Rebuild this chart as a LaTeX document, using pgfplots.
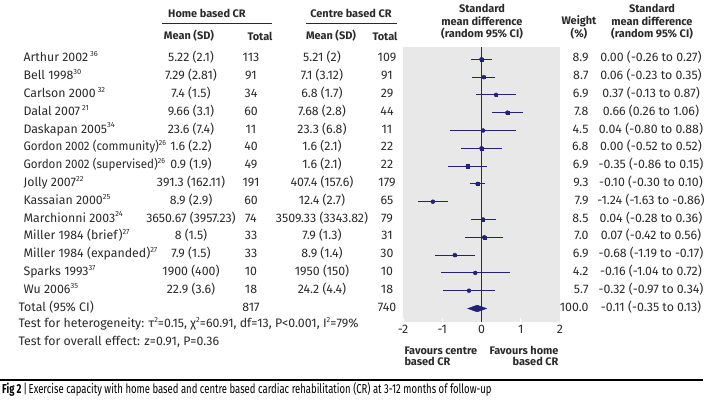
\documentclass[border=0pt]{standalone}
\usepackage{pgfplots}
\pgfplotsset{compat=1.18}
\usepackage{pgfplotstable}
\usepackage{graphicx}
\usepackage{fontspec}
\setmainfont{Fira Sans}
\definecolor{navy}{HTML}{22227A}
\definecolor{bg}{HTML}{E8E8E8}
\definecolor{txt}{HTML}{2A2A2A}

\pgfplotstableread{
row smd lo hi ms
-1 0.00 -0.26 0.27 1.6
-2 0.06 -0.23 0.35 1.0
-3 0.37 -0.13 0.87 1.0
-4 0.66 0.26 1.06 1.6
-5 0.04 -0.80 0.88 0.8
-6 0.00 -0.52 0.52 1.6
-7 -0.35 -0.86 0.15 1.6
-8 -0.10 -0.30 0.10 1.7
-9 -1.24 -1.63 -0.86 0.7
-10 0.04 -0.28 0.36 1.4
-11 0.07 -0.42 0.56 1.5
-12 -0.68 -1.19 -0.17 1.0
-13 -0.16 -1.04 0.72 0.7
-14 -0.32 -0.97 0.34 0.7
}\forestdata

\newcommand\bodyfont{\fontsize{12.4}{14}\selectfont}
\newcommand\headfont{\fontsize{11}{13}\selectfont\bfseries}
\newcommand\sups[1]{\raisebox{0.42em}{\fontsize{7.5}{8}\selectfont #1}}

\begin{document}
\begin{tikzpicture}[x=1bp,y=1bp,font=\bodyfont,text=txt]
\useasboundingbox (0,0) rectangle (718,-411);
\coordinate (axsw) at (403,-322);

\begin{axis}[at={(axsw)}, anchor=south west, scale only axis,
  width=157bp, height=275bp,
  xmin=-2, xmax=2, ymin=-15.758, ymax=-0.309,
  axis background/.style={fill=bg},
  axis line style={draw=none},
  xtick={-2,-1,0,1,2}, xticklabels={-2,-1,0,1,2}, ytick=\empty,
  xtick pos=left, tick align=inside, major tick length=4bp,
  tick style={white, line width=1bp},
  xticklabel style={font=\bodyfont, text=txt},
  clip=false]
\addplot[navy, line width=1.2bp] coordinates {(0,-0.309) (0,-15.758)};
\addplot[navy, only marks, mark=none,
  error bars/.cd, x dir=both, x explicit, error mark=none,
  error bar style={navy, line width=0.9bp}]
  table[x=smd, y=row,
    x error plus expr=\thisrow{hi}-\thisrow{smd},
    x error minus expr=\thisrow{smd}-\thisrow{lo}] {\forestdata};
\addplot[scatter, only marks, mark=square*,
  point meta=\thisrow{ms},
  scatter/use mapped color={draw=navy, fill=navy},
  visualization depends on={\thisrow{ms}\as\msz},
  scatter/@pre marker code/.append style={/tikz/mark size=\msz}]
  table[x=smd, y=row] {\forestdata};
\addplot[fill=navy, draw=navy] coordinates
  {(-0.35,-15) (-0.11,-14.81) (0.13,-15) (-0.11,-15.19)} -- cycle;
\end{axis}

% headers
\begin{scope}[font=\headfont]
\node at (207,-13) {Home based CR};
\node at (351,-13) {Centre based CR};
\node at (189,-36) {Mean (SD)};
\node at (260,-36) {Total};
\node at (331,-36) {Mean (SD)};
\node at (385,-36) {Total};
\node at (482,-8) {Standard};
\node at (482,-21) {mean difference};
\node at (482,-34) {(random 95\% CI)};
\node at (579,-21) {Weight};
\node at (579,-34) {(\%)};
\node at (652,-8) {Standard};
\node at (652,-21) {mean difference};
\node at (652,-34) {(random 95\% CI)};
\node[anchor=mid west] at (401,-352) {Favours centre};
\node[anchor=mid west] at (401,-363) {based CR};
\node[anchor=mid east] at (562,-352) {Favours home};
\node[anchor=mid east] at (562,-363) {based CR};
\end{scope}
\draw[txt, line width=0.8bp] (162,-23) -- (272,-23);
\draw[txt, line width=0.8bp] (306,-23) -- (397,-23);

% rows
\foreach \y/\nm/\hm/\hn/\cm/\cn/\w/\ci in {
 59.3/{Arthur 2002\,\sups{36}}/{5.22 (2.1)}/113/{5.21 (2)}/109/8.9/{0.00 (-0.26 to 0.27)},
 77.1/{Bell 1998\sups{30}}/{7.29 (2.81)}/91/{7.1 (3.12)}/91/8.7/{0.06 (-0.23 to 0.35)},
 94.9/{Carlson 2000\,\sups{32}}/{7.4 (1.5)}/34/{6.8 (1.7)}/29/6.9/{0.37 (-0.13 to 0.87)},
 112.7/{Dalal 2007\,\sups{21}}/{9.66 (3.1)}/60/{7.68 (2.8)}/44/7.8/{0.66 (0.26 to 1.06)},
 130.5/{Daskapan 2005\sups{34}}/{23.6 (7.4)}/11/{23.3 (6.8)}/11/4.5/{0.04 (-0.80 to 0.88)},
 148.3/{\scalebox{0.94}[1]{Gordon 2002 (community)\sups{26}}}/{1.6 (2.2)}/40/{1.6 (2.1)}/22/6.8/{0.00 (-0.52 to 0.52)},
 166.1/{\scalebox{0.94}[1]{Gordon 2002 (supervised)\sups{26}}}/{0.9 (1.9)}/49/{1.6 (2.1)}/22/6.9/{-0.35 (-0.86 to 0.15)},
 183.9/{Jolly 2007\sups{22}}/{391.3 (162.11)}/191/{407.4 (157.6)}/179/9.3/{-0.10 (-0.30 to 0.10)},
 201.7/{Kassaian 2000\sups{25}}/{8.9 (2.9)}/60/{12.4 (2.7)}/65/7.9/{-1.24 (-1.63 to -0.86)},
 219.5/{Marchionni 2003\sups{24}}/{3650.67 (3957.23)}/74/{3509.33 (3343.82)}/79/8.5/{0.04 (-0.28 to 0.36)},
 237.3/{Miller 1984 (brief)\sups{27}}/{8 (1.5)}/33/{7.9 (1.3)}/31/7.0/{0.07 (-0.42 to 0.56)},
 255.1/{Miller 1984 (expanded)\sups{27}}/{7.9 (1.5)}/33/{8.9 (1.4)}/30/6.9/{-0.68 (-1.19 to -0.17)},
 272.9/{Sparks 1993\sups{37}}/{1900 (400)}/10/{1950 (150)}/10/4.2/{-0.16 (-1.04 to 0.72)},
 290.7/{Wu 2006\sups{35}}/{22.9 (3.6)}/18/{24.2 (4.4)}/18/5.7/{-0.32 (-0.97 to 0.34)}}
{
 \node[anchor=mid west] at (20,-\y) {\nm};
 \node[anchor=mid] at (191,-\y) {\hm};
 \node[anchor=mid] at (251,-\y) {\hn};
 \node[anchor=mid] at (322,-\y) {\cm};
 \node[anchor=mid] at (387,-\y) {\cn};
 \node[anchor=mid east] at (592,-\y) {\w};
 \node[anchor=mid] at (651,-\y) {\ci};
}
\node[anchor=mid west] at (15,-308.5) {Total (95\% CI)};
\node[anchor=mid] at (251,-308.5) {817};
\node[anchor=mid] at (387,-308.5) {740};
\node[anchor=mid east] at (592,-308.5) {100.0};
\node[anchor=mid] at (651,-308.5) {-0.11 (-0.35 to 0.13)};
\node[anchor=mid west] at (15,-325) {Test for heterogeneity: τ\sups{2}=0.15, χ\sups{2}=60.91, df=13, P<0.001, I\sups{2}=79\%};
\node[anchor=mid west] at (15,-343) {Test for overall effect: z=0.91, P=0.36};

% caption
\draw[black, line width=1.2bp] (0,-380) -- (703,-380);
\node[anchor=mid west, inner sep=0pt, text=black] at (2,-391) {\scalebox{0.735}[1]{\fontsize{13}{15}\selectfont\textbf{Fig 2}\,|\,Exercise capacity with home based and centre based cardiac rehabilitation (CR) at 3-12 months of follow-up}};
\end{tikzpicture}
\end{document}
